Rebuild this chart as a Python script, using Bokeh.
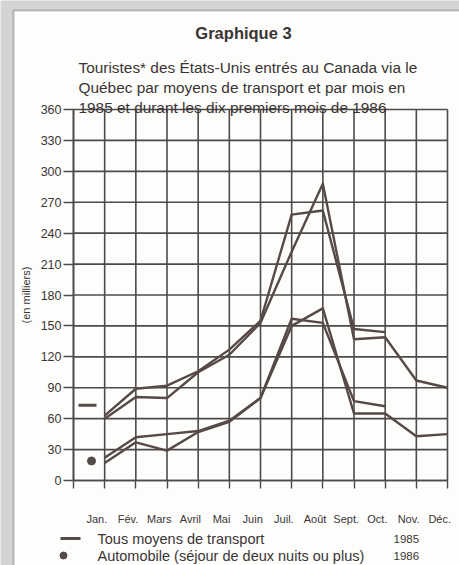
from bokeh.plotting import figure
from bokeh.models import FixedTicker, LinearAxis, BoxAnnotation, Range1d
from bokeh.core.properties import value
from bokeh.embed import file_html
from bokeh.resources import INLINE

# ---- data (in thousands) ----
months = list(range(1, 13))
month_labels = ["Jan.", "Fév.", "Mars", "Avril", "Mai", "Juin",
                "Juil.", "Août", "Sept.", "Oct.", "Nov.", "Déc."]
tous_1985 = [60, 81, 80, 105, 122, 153, 222, 288, 137, 139, 97, 90]
tous_1986 = [63, 89, 92, 106, 127, 155, 258, 262, 147, 144]
auto_1985 = [17, 37, 29, 47, 57, 80, 150, 167, 65, 65, 43, 45]
auto_1986 = [22, 42, 45, 48, 58, 80, 157, 153, 77, 72]
y_ticks = list(range(0, 361, 30))
x_grid = list(range(0, 13))

title = "Graphique 3"
subtitle = ["Touristes* des États-Unis entrés au Canada via le",
            "Québec par moyens de transport et par mois en",
            "1985 et durant les dix premiers mois de 1986"]
legend_names = ["Tous moyens de transport", "Automobile (séjour de deux nuits ou plus)"]
legend_years = ["1985", "1986"]

FONT = "Liberation Sans"
INK = "#3a3535"
GRID = "#4f4a4a"
LINE = "#554a48"

W, H = 459, 565
X0, X12 = 73.0, 447.0      # pixel position of month 0 and month 12
Y0, Y360 = 480.0, 109.0    # pixel position of 0 and 360
sx = (X12 - X0) / 12.0
sy = (Y0 - Y360) / 360.0

p = figure(width=W, height=H, output_backend="svg", toolbar_location=None,
           x_range=Range1d(-X0 / sx, (W - X0) / sx),
           y_range=Range1d(-(H - Y0) / sy, Y0 / sy),
           min_border_left=0, min_border_right=0, min_border_top=0,
           min_border_bottom=0, border_fill_color="#d4d4d2",
           background_fill_color="#d4d4d2", outline_line_color=None)
p.xgrid.visible = False
p.ygrid.visible = False

# outer framed box
p.add_layout(BoxAnnotation(left=(13 - X0) / sx, right=40, top=(Y0 - 10) / sy, bottom=-300,
                           fill_color="#fdfdfb", fill_alpha=1.0,
                           line_color="#444040", line_width=2, level="image"))

# grid (drawn inside the 0..12 x 0..360 area)
p.segment(x0=x_grid, y0=[0] * len(x_grid), x1=x_grid, y1=[360] * len(x_grid),
          line_color=GRID, line_width=1.6)
p.segment(x0=[0] * len(y_ticks), y0=y_ticks, x1=[12] * len(y_ticks), y1=y_ticks,
          line_color=GRID, line_width=1.6)

# y axis
ya = p.yaxis[0]
ya.fixed_location = 0
ya.bounds = (0, 360)
ya.ticker = FixedTicker(ticks=y_ticks)
ya.major_tick_out = 10
ya.major_tick_in = 0
ya.minor_tick_line_color = None
ya.major_label_standoff = 2
ya.major_label_text_font = FONT
ya.major_label_text_font_size = "12.5px"
ya.major_label_text_color = INK
ya.axis_line_color = GRID
ya.axis_line_width = 1.6
ya.major_tick_line_color = GRID
ya.major_tick_line_width = 1.4
ya.axis_label = "(en milliers)"
ya.axis_label_text_font = FONT
ya.axis_label_text_font_size = "11px"
ya.axis_label_text_font_style = "normal"
ya.axis_label_text_color = INK
ya.axis_label_standoff = 6

# x axis: tick marks only
xa = p.xaxis[0]
xa.fixed_location = 0
xa.bounds = (0, 12)
xa.ticker = FixedTicker(ticks=x_grid)
xa.major_label_overrides = {t: "" for t in x_grid}
xa.major_tick_out = 8
xa.major_tick_in = 0
xa.minor_tick_line_color = None
xa.axis_line_color = GRID
xa.axis_line_width = 1.6
xa.major_tick_line_color = GRID
xa.major_tick_line_width = 1.4

# x axis: month labels
lab_ticks = [m - 0.25 for m in months]
xa2 = LinearAxis(ticker=FixedTicker(ticks=lab_ticks), fixed_location=0,
                 major_label_overrides={t: l for t, l in zip(lab_ticks, month_labels)},
                 axis_line_color=None, major_tick_line_color=None, major_tick_out=0,
                 minor_tick_line_color=None, major_label_standoff=32,
                 major_label_text_font=FONT, major_label_text_font_size="11px",
                 major_label_text_color=INK)
p.add_layout(xa2, "below")

# series
for ys in (tous_1985, tous_1986, auto_1985, auto_1986):
    p.line(months[:len(ys)], ys, line_color=LINE, line_width=2.4, line_join="round")

# in-chart keys
p.segment(x0=[(78 - X0) / sx], y0=[73], x1=[(96 - X0) / sx], y1=[73], line_color=LINE, line_width=3)
p.scatter(x=[(91 - X0) / sx], y=[19], size=8, color=LINE)

# titles
p.text(x=[(243 - X0) / sx], y=[(Y0 - 32) / sy], text=[title], text_align="center",
       text_baseline="middle", text_font=value(FONT), text_font_size="16.5px",
       text_font_style="bold", text_color=INK)
p.text(x=[(78 - X0) / sx] * 3, y=[(Y0 - b) / sy for b in (67, 87, 107)], text=subtitle,
       text_align="left", text_baseline="alphabetic", text_font=value(FONT),
       text_font_size="15.4px", text_color=INK)

# bottom legend
leg_y = [(Y0 - 538) / sy, (Y0 - 555) / sy]
p.segment(x0=[(60 - X0) / sx], y0=[leg_y[0]], x1=[(80 - X0) / sx], y1=[leg_y[0]],
          line_color=LINE, line_width=3)
p.scatter(x=[(63 - X0) / sx], y=[leg_y[1]], size=7, color=LINE)
p.text(x=[(97 - X0) / sx] * 2, y=leg_y, text=legend_names, text_align="left",
       text_baseline="middle", text_font=value(FONT), text_font_size="14.5px",
       text_color=INK)
p.text(x=[(393 - X0) / sx] * 2, y=leg_y, text=legend_years, text_align="left",
       text_baseline="middle", text_font=value(FONT), text_font_size="11.5px",
       text_color=INK)

open("out.html", "w").write(file_html(p, INLINE))
